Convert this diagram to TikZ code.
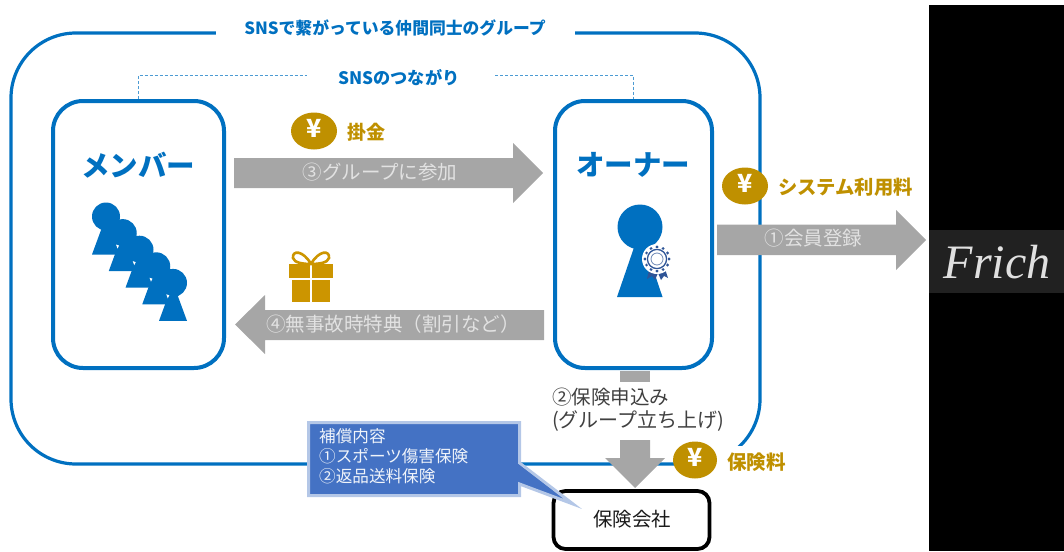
\documentclass[tikz,border=0pt]{standalone}
\usepackage{fontspec}
\setmainfont{Noto Sans CJK JP}
\newfontfamily\frichfont{Liberation Serif}
\usetikzlibrary{calc}
\definecolor{bl}{HTML}{0070C0}
\definecolor{gold}{HTML}{BF9000}
\definecolor{giftc}{HTML}{CC9500}
\definecolor{arr}{HTML}{A6A6A6}
\definecolor{arrtx}{HTML}{E2E2E2}
\definecolor{calfill}{HTML}{4472C4}
\definecolor{calline}{HTML}{B4C7E7}
\definecolor{ros}{HTML}{2F5597}
\newcommand{\fs}[1]{\fontsize{#1}{#1}\selectfont}
\tikzset{
  x=1pt,y=-1pt,
  frame/.style={draw=bl,line width=3.2pt,rounded corners=#1},
  arrowblock/.style={fill=arr,draw=none},
  arrowtext/.style={text=arrtx,inner sep=0pt,font=\fs{19.5}},
  goldtext/.style={text=gold,inner sep=0pt,anchor=west,font=\fs{19}\bfseries},
  coin/.style={fill=gold,draw=none},
  yen/.style={text=white,inner sep=0pt,font=\fs{25}\bfseries},
  bluetitle/.style={text=bl,inner sep=0pt,font=\bfseries},
  person/.style={fill=bl,draw=none},
}
\begin{document}
\begin{tikzpicture}
\useasboundingbox (0,0) rectangle (1064,551);
% right band
\fill[black] (929,5) rectangle (1064,551);
\fill[black!87] (929,230) rectangle (1064,293);
\node[text=black!12,inner sep=0pt,font=\frichfont\fs{48}\itshape] (frich) at (997,262) {Frich};
% outer group frame
\draw[frame=65pt] (11,33) rectangle (760,464);
\fill[white] (716,446) rectangle (800,482);
\node[fill=white,inner xsep=0pt,inner ysep=2pt,minimum width=359pt,minimum height=14pt] (titlegap) at (395.5,33) {};
\node[bluetitle,font=\fs{16.8}\bfseries] (title) at (395,28) {SNSで繋がっている仲間同士のグループ};
% SNS link
\node[bluetitle,font=\fs{17.2}\bfseries] (sns) at (399,78) {SNSのつながり};
% boxes
\node[draw=bl,line width=4pt,rounded corners=30pt,fill=white,minimum width=171pt,minimum height=267pt,inner sep=0pt] (member) at (138.5,234.5) {};
\node[draw=bl,line width=4pt,rounded corners=30pt,fill=white,minimum width=157pt,minimum height=267pt,inner sep=0pt] (owner) at (633.5,234.5) {};
\coordinate (sl) at (307,75);
\coordinate (sr) at (495,75);
\draw[bl!70!white,line width=.8pt,densely dashed] (member.north) -- (member.north |- sl) -- (sl);
\draw[bl!70!white,line width=.8pt,densely dashed] (sr) -- (sr -| owner.north) -- (owner.north);
\node[bluetitle,font=\fs{28.5}\bfseries] (mt) at (138,165) {メンバー};
\node[bluetitle,font=\fs{28.5}\bfseries] (ot) at (633,165) {オーナー};
% members
\foreach \i in {0,...,4}{
  \fill[person] ({106+16.75*\i},{216.5+16.6*\i}) circle (14);
  \fill[person] ({106+16.75*\i},{216.5+16.6*\i}) -- ({120+16.75*\i},{254.5+16.6*\i}) -- ({92+16.75*\i},{254.5+16.6*\i}) -- cycle;
}
\foreach \i in {0,...,3}{
  \fill[white] ({116+16.75*\i},{244.5+16.6*\i}) -- ++(3,1) -- ++(-1.5,3) -- cycle;
}
% owner figure
\fill[person] (640,227) circle (22.5);
\fill[person] (640,230) -- (662.5,297) -- (617,297) -- cycle;
\fill[ros] (650,266) -- (647,279) -- (652,276) -- (655,280) -- (658,273) -- (661,280) -- (664,276) -- (668,278) -- (664,266) -- cycle;
\fill[white] (657,259) circle (15);
\foreach \a in {0,30,...,330}{\fill[ros] ($(657,259)+(\a:12)$) circle (1.6);}
\fill[white] (657,259) circle (11);
\draw[ros,line width=1.3pt] (657,259) circle (9.6);
\draw[ros!70,line width=.8pt] (657,259) circle (6);
% arrows
\fill[arrowblock] (234,158) -- (513,158) -- (513,143) -- (543,173) -- (513,203) -- (513,188) -- (234,188) -- cycle;
\node[arrowtext] (a3) at (380,172) {③グループに参加};
\fill[arrowblock] (544,310) -- (265,310) -- (265,295) -- (235,324.5) -- (265,354) -- (265,340) -- (544,340) -- cycle;
\node[arrowtext] (a4) at (393,324) {④無事故時特典（割引など）};
\fill[arrowblock] (717,224.5) -- (896,224.5) -- (896,210) -- (926,240) -- (896,270) -- (896,255) -- (717,255) -- cycle;
\node[arrowtext] (a1) at (813.5,238) {①会員登録};
\fill[arrowblock] (620,371) rectangle (650,382);
\fill[arrowblock] (620,440) -- (650,440) -- (650,458) -- (665,458) -- (635,488) -- (605,458) -- (620,458) -- cycle;
\node[text=black!75,inner sep=0pt,anchor=west,font=\fs{19.5}] (a2a) at (552,397) {②保険申込み};
\node[text=black!75,inner sep=0pt,anchor=west,font=\fs{20}] (a2b) at (552,421) {(グループ立ち上げ)};
% coins
\fill[coin] (314,131) ellipse [x radius=23,y radius=18.5];
\node[yen] (y1) at (314,128) {¥};
\node[goldtext] (kk) at (347,132) {掛金};
\fill[coin] (745,186) ellipse [x radius=23,y radius=18.5];
\node[yen] (y2) at (745,183) {¥};
\node[goldtext,font=\fs{19.3}\bfseries] (sys) at (778,187) {システム利用料};
\fill[coin] (695,460) ellipse [x radius=22,y radius=18.5];
\node[yen] (y3) at (695,457) {¥};
\node[goldtext,font=\fs{19.5}\bfseries] (hk) at (727,462) {保険料};
% gift
\draw[giftc,line width=2.6pt,fill=white] (311,264) .. controls (303,250) and (292,250) .. (293,258) .. controls (294,263) and (304,264) .. (311,264);
\draw[giftc,line width=2.6pt,fill=white] (311,264) .. controls (319,250) and (330,250) .. (329,258) .. controls (328,263) and (318,264) .. (311,264);
\fill[giftc] (289,264) rectangle (309.5,278);
\fill[giftc] (312,264) rectangle (333,278);
\fill[giftc] (292,280) rectangle (309.5,302);
\fill[giftc] (312,280) rectangle (330,302);
% insurer
\node[draw=black,line width=3.8pt,rounded corners=12pt,fill=white,minimum width=156pt,minimum height=58pt,inner sep=0pt] (ins) at (631.5,520) {};
\node[text=black!90,inner sep=0pt,font=\fs{19.4}] (inst) at (632,519) {保険会社};
% callout
\draw[calline,line width=3pt,fill=calfill,line join=miter] (308.5,422.5) -- (519.5,422.5) -- (519.5,463) -- (573,504) -- (519.5,484) -- (519.5,495.5) -- (308.5,495.5) -- cycle;
\fill[calfill] (518,464) -- (553,491) -- (518,480) -- cycle;
\node[text=white!92!calfill,inner sep=0pt,anchor=west,font=\fs{16.6}] (c1) at (319,436) {補償内容};
\node[text=white!92!calfill,inner sep=0pt,anchor=west,font=\fs{16.6}] (c2) at (319,456) {①スポーツ傷害保険};
\node[text=white!92!calfill,inner sep=0pt,anchor=west,font=\fs{16.6}] (c3) at (319,476.5) {②返品送料保険};
\end{tikzpicture}
\end{document}
